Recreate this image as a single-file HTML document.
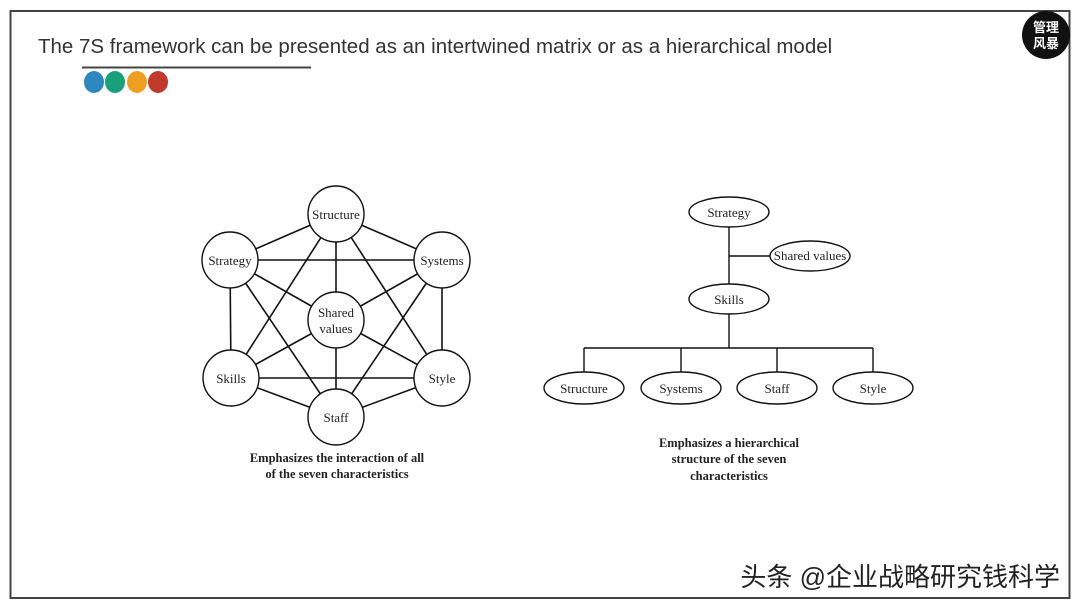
<!DOCTYPE html>
<html><head><meta charset="utf-8"><style>
body{margin:0;width:1080px;height:608px;background:#fff;overflow:hidden;position:relative}
</style></head><body>
<svg width="1080" height="608" viewBox="0 0 1080 608" xmlns="http://www.w3.org/2000/svg" style="position:absolute;left:0;top:0">
<rect x="10.5" y="11" width="1059" height="587" fill="#fff" stroke="#444" stroke-width="2"/>
<text x="38" y="53" font-family="Liberation Sans, sans-serif" font-size="20.5" fill="#333">The 7S framework can be presented as an intertwined matrix or as a hierarchical model</text>
<line x1="82" y1="67.5" x2="311" y2="67.5" stroke="#444" stroke-width="2"/>
<ellipse cx="94" cy="82" rx="10" ry="11" fill="#2e86c1"/>
<ellipse cx="115" cy="82" rx="10" ry="11" fill="#17a07a"/>
<ellipse cx="137" cy="82" rx="10" ry="11" fill="#f0a020"/>
<ellipse cx="158" cy="82" rx="10" ry="11" fill="#c0392b"/>
<circle cx="1046" cy="35" r="24" fill="#111"/>
<text x="1046" y="32" text-anchor="middle" font-family="Noto Sans CJK SC, sans-serif" font-size="13" font-weight="bold" fill="#fff">管理</text>
<text x="1046" y="48" text-anchor="middle" font-family="Noto Sans CJK SC, sans-serif" font-size="13" font-weight="bold" fill="#fff">风暴</text>
<g stroke="#111" stroke-width="1.6">
<line x1="230" y1="260" x2="336" y2="214"/><line x1="336" y1="214" x2="442" y2="260"/>
<line x1="230" y1="260" x2="442" y2="260"/><line x1="230" y1="260" x2="231" y2="378"/>
<line x1="442" y1="260" x2="442" y2="378"/><line x1="231" y1="378" x2="442" y2="378"/>
<line x1="231" y1="378" x2="336" y2="417"/><line x1="336" y1="417" x2="442" y2="378"/>
<line x1="336" y1="320" x2="230" y2="260"/><line x1="336" y1="320" x2="442" y2="260"/>
<line x1="336" y1="320" x2="231" y2="378"/><line x1="336" y1="320" x2="442" y2="378"/>
<line x1="336" y1="214" x2="336" y2="417"/>
<line x1="336" y1="214" x2="231" y2="378"/><line x1="336" y1="214" x2="442" y2="378"/>
<line x1="230" y1="260" x2="336" y2="417"/><line x1="442" y1="260" x2="336" y2="417"/>
</g>
<g fill="#fff" stroke="#111" stroke-width="1.4">
<circle cx="336" cy="214" r="28"/><circle cx="230" cy="260" r="28"/><circle cx="442" cy="260" r="28"/>
<circle cx="336" cy="320" r="28"/><circle cx="231" cy="378" r="28"/><circle cx="442" cy="378" r="28"/>
<circle cx="336" cy="417" r="28"/>
</g>
<g font-family="Liberation Serif, serif" font-size="13" fill="#222" text-anchor="middle">
<text x="336" y="219">Structure</text><text x="230" y="265">Strategy</text><text x="442" y="265">Systems</text>
<text x="336" y="317">Shared</text><text x="336" y="333">values</text>
<text x="231" y="383">Skills</text><text x="442" y="383">Style</text><text x="336" y="422">Staff</text>
</g>
<g font-family="Liberation Serif, serif" font-size="12.5" font-weight="bold" fill="#222" text-anchor="middle">
<text x="337" y="462">Emphasizes the interaction of all</text>
<text x="337" y="478">of the seven characteristics</text>
<text x="729" y="447">Emphasizes a hierarchical</text>
<text x="729" y="463">structure of the seven</text>
<text x="729" y="480">characteristics</text>
</g>
<g stroke="#111" stroke-width="1.4" fill="none">
<line x1="729" y1="227" x2="729" y2="284"/><line x1="729" y1="256" x2="770" y2="256"/>
<line x1="729" y1="314" x2="729" y2="348"/><line x1="584" y1="348" x2="873" y2="348"/>
<line x1="584" y1="348" x2="584" y2="372"/><line x1="681" y1="348" x2="681" y2="372"/>
<line x1="777" y1="348" x2="777" y2="372"/><line x1="873" y1="348" x2="873" y2="372"/>
</g>
<g fill="#fff" stroke="#111" stroke-width="1.4">
<ellipse cx="729" cy="212" rx="40" ry="15"/><ellipse cx="810" cy="256" rx="40" ry="15"/>
<ellipse cx="729" cy="299" rx="40" ry="15"/>
<ellipse cx="584" cy="388" rx="40" ry="16"/><ellipse cx="681" cy="388" rx="40" ry="16"/>
<ellipse cx="777" cy="388" rx="40" ry="16"/><ellipse cx="873" cy="388" rx="40" ry="16"/>
</g>
<g font-family="Liberation Serif, serif" font-size="13" fill="#222" text-anchor="middle">
<text x="729" y="217">Strategy</text><text x="810" y="260">Shared values</text><text x="729" y="304">Skills</text>
<text x="584" y="393">Structure</text><text x="681" y="393">Systems</text><text x="777" y="393">Staff</text><text x="873" y="393">Style</text>
</g>
<text x="1060" y="586" text-anchor="end" font-family="Liberation Sans, Noto Sans CJK SC, sans-serif" font-size="26" fill="#222">头条 @企业战略研究钱科学</text>
</svg>
</body></html>
